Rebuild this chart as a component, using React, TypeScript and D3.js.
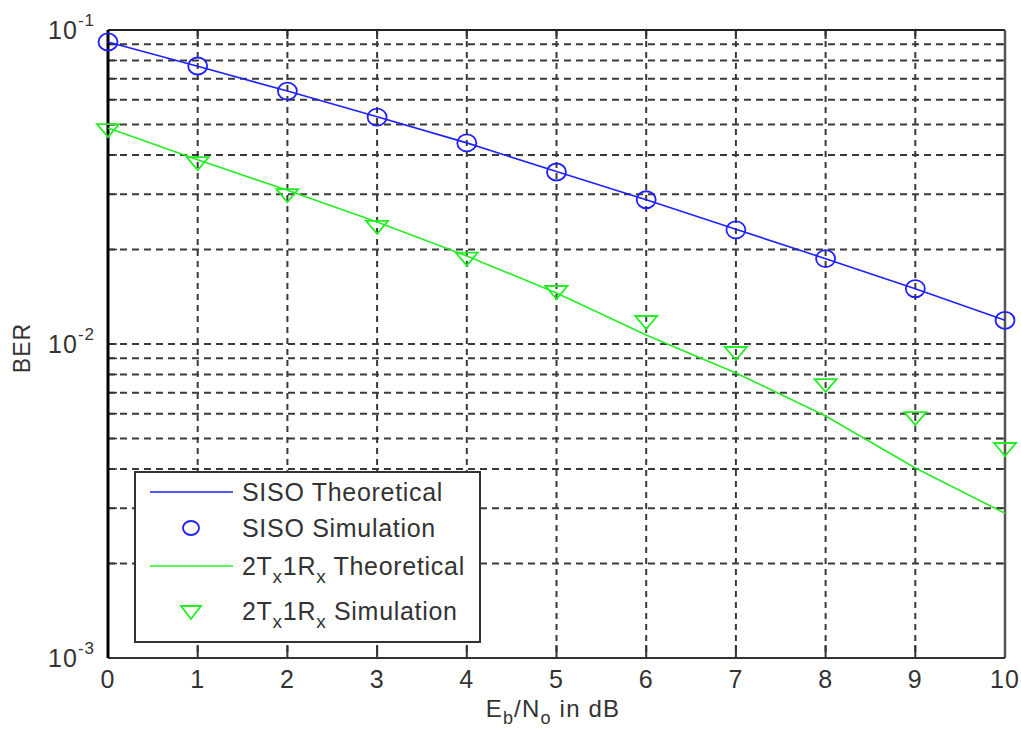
import React from "react";
import * as d3 from "d3";

const ebno = [0, 1, 2, 3, 4, 5, 6, 7, 8, 9, 10];
const sisoTheory = [0.0916, 0.0766, 0.0639, 0.0529, 0.0437, 0.0354, 0.0288, 0.0232, 0.0187, 0.0150, 0.0119];
const sisoSim = [0.0916, 0.0768, 0.0639, 0.0528, 0.0437, 0.0353, 0.0288, 0.0231, 0.0187, 0.0150, 0.0119];
const mimoTheory = [0.0487, 0.0386, 0.0309, 0.02446, 0.01907, 0.01454, 0.01068, 0.00809, 0.0059, 0.00403, 0.00289];
const mimoSim = [0.048, 0.0377, 0.0298, 0.0236, 0.0187, 0.01464, 0.01175, 0.00936, 0.0074, 0.00581, 0.00463];
const yMajorExps = [-1, -2, -3];
const legendItems = ["SISO Theoretical", "SISO Simulation", "2Tx1Rx Theoretical", "2Tx1Rx Simulation"];

const W = 1021, H = 733;
const L = 108, R = 1005, T = 30, B = 658;
const FONT = "'Liberation Sans', Arial, Helvetica, sans-serif";
const BLUE = "#1f1fff";
const GREEN = "#22ee22";
const TXT = "#333";

export default function App() {
  const x = d3.scaleLinear().domain([0, 10]).range([L, R]);
  const y = d3.scaleLog().domain([1e-3, 1e-1]).range([B, T]);

  const minorVals: number[] = [];
  [-3, -2].forEach((e) => {
    for (let m = 1; m <= 9; m++) minorVals.push(m * Math.pow(10, e));
  });
  const gridY = minorVals.filter((v) => v > 1e-3 * 1.0001);

  const line = d3.line<number>().x((_, i) => x(ebno[i])).y((d) => y(d));

  const tri = (cx: number, cy: number, s = 11) =>
    `M${cx - s},${cy - 6} L${cx + s},${cy - 6} L${cx},${cy + 7} Z`;

  const legX = 135, legY = 472, legW = 345, legH = 170;
  const legRows = [492, 528, 566, 611];

  return (
    <svg width={W} height={H} style={{ position: "absolute", left: 0, top: 0, background: "#fff" }} fontFamily={FONT}>
      <rect x={0} y={0} width={W} height={H} fill="#fff" />
      {gridY.map((v, i) => (
        <line key={"gy" + i} x1={L} x2={R} y1={y(v)} y2={y(v)} stroke="#3a3a3a" strokeWidth={2} strokeDasharray="7,5" />
      ))}
      {ebno.filter((v) => v > 0 && v < 10).map((v) => (
        <line key={"gx" + v} x1={x(v)} x2={x(v)} y1={T} y2={B} stroke="#3a3a3a" strokeWidth={2} strokeDasharray="6,5" />
      ))}
      {gridY.concat([1e-1, 1e-3]).map((v, i) => (
        <g key={"ty" + i}>
          <line x1={L} x2={L + 9} y1={y(v)} y2={y(v)} stroke="#333" strokeWidth={1.5} />
          <line x1={R - 9} x2={R} y1={y(v)} y2={y(v)} stroke="#333" strokeWidth={1.5} />
        </g>
      ))}
      {ebno.map((v) => (
        <g key={"tx" + v}>
          <line x1={x(v)} x2={x(v)} y1={B} y2={B - 13} stroke="#333" strokeWidth={2} />
          <line x1={x(v)} x2={x(v)} y1={T} y2={T + 9} stroke="#333" strokeWidth={2} />
        </g>
      ))}
      <line x1={L} x2={R} y1={T} y2={T} stroke="#222" strokeWidth={2} />
      <line x1={R} x2={R} y1={T} y2={B} stroke="#555" strokeWidth={2.5} />
      <line x1={L} x2={R} y1={B} y2={B} stroke="#333" strokeWidth={2} />
      <line x1={L} x2={L} y1={T} y2={B} stroke="#000" strokeWidth={3} />

      <path d={line(sisoTheory) || ""} fill="none" stroke={BLUE} strokeWidth={1.6} />
      <path d={line(mimoTheory) || ""} fill="none" stroke={GREEN} strokeWidth={1.6} />
      {sisoSim.map((v, i) => (
        <ellipse key={"c" + i} cx={x(ebno[i])} cy={y(v)} rx={9.5} ry={8.5} fill="none" stroke={BLUE} strokeWidth={1.8} />
      ))}
      {mimoSim.map((v, i) => (
        <path key={"t" + i} d={tri(x(ebno[i]), y(v))} fill="none" stroke={GREEN} strokeWidth={1.8} />
      ))}

      {ebno.map((v) => (
        <text key={"xl" + v} x={x(v)} y={688} textAnchor="middle" fontSize={25} fill={TXT} letterSpacing={1}>{v}</text>
      ))}
      {yMajorExps.map((e) => (
        <text key={"yl" + e} x={95} y={y(Math.pow(10, e)) + 9} textAnchor="end" fontSize={25} fill={TXT} letterSpacing={1}>
          10
          <tspan dx={0} dy={-13} fontSize={17}>{String(e)}</tspan>
        </text>
      ))}
      <text x={553} y={717} textAnchor="middle" fontSize={24} fill={TXT} letterSpacing={1.2}>
        E<tspan dy={7} fontSize={18}>b</tspan><tspan dy={-7}>/N</tspan><tspan dy={7} fontSize={18}>o</tspan><tspan dy={-7}> in dB</tspan>
      </text>
      <text transform="translate(30,348) rotate(-90)" textAnchor="middle" fontSize={23} fill={TXT} letterSpacing={1}>BER</text>

      <rect x={legX} y={legY} width={legW} height={legH} fill="#fff" stroke="#333" strokeWidth={2} />
      <line x1={150} x2={233} y1={legRows[0]} y2={legRows[0]} stroke={BLUE} strokeWidth={1.6} />
      <ellipse cx={191} cy={legRows[1]} rx={8} ry={7} fill="none" stroke={BLUE} strokeWidth={1.8} />
      <line x1={150} x2={233} y1={legRows[2]} y2={legRows[2]} stroke={GREEN} strokeWidth={1.6} />
      <path d={tri(191, legRows[3] + 1, 10)} fill="none" stroke={GREEN} strokeWidth={1.8} />
      <text x={242} y={legRows[0] + 9} fontSize={25} fill={TXT} letterSpacing={0.7}>{legendItems[0]}</text>
      <text x={242} y={legRows[1] + 9} fontSize={25} fill={TXT} letterSpacing={0.7}>{legendItems[1]}</text>
      {[2, 3].map((k) => {
        const words = legendItems[k].split(" ");
        return (
          <text key={"lg" + k} x={242} y={legRows[k] + 9} fontSize={25} fill={TXT} letterSpacing={0.7}>
            2T<tspan dy={8} fontSize={19}>x</tspan><tspan dy={-8}>1R</tspan><tspan dy={8} fontSize={19}>x</tspan><tspan dy={-8}>{" " + words[1]}</tspan>
          </text>
        );
      })}
    </svg>
  );
}
